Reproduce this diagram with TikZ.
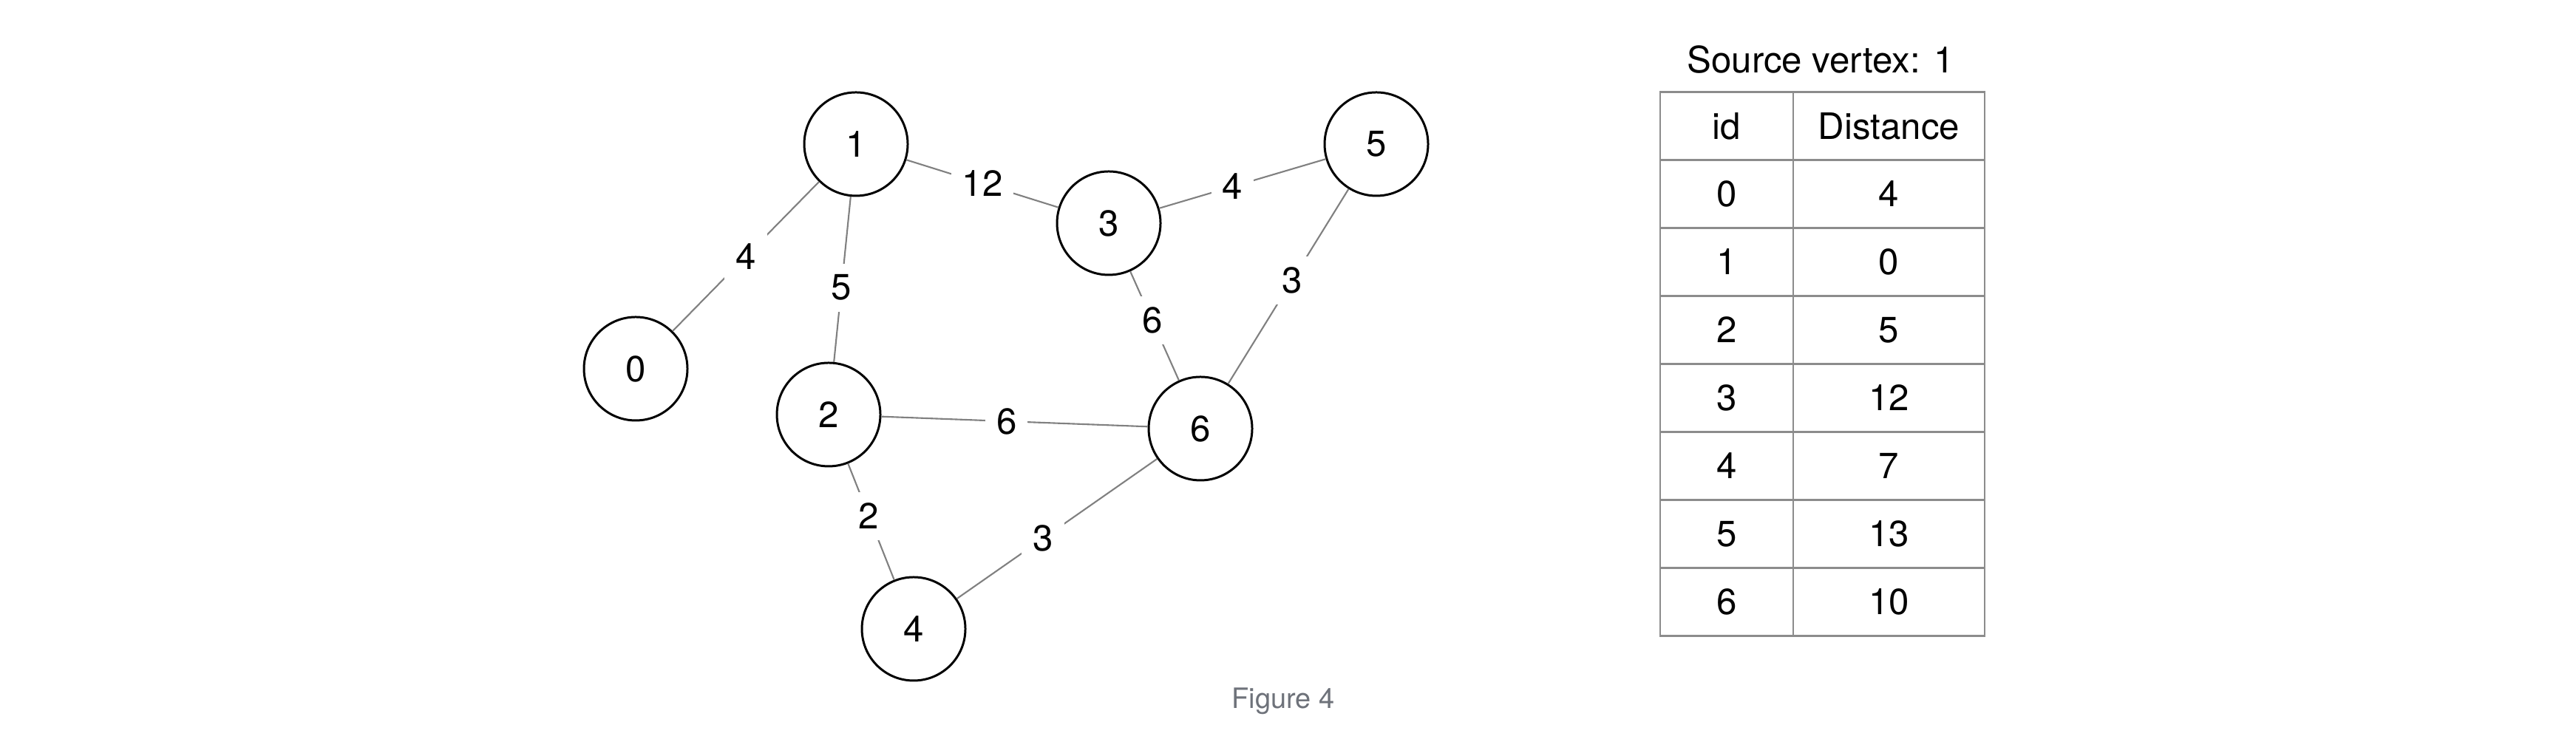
\documentclass[tikz,border=0pt]{standalone}
\usepackage{fontspec}
\setmainfont{TeX Gyre Heros}
\definecolor{edgegray}{RGB}{128,128,128}
\definecolor{tablegray}{RGB}{140,140,140}
\definecolor{captiongray}{RGB}{110,114,122}
\begin{document}
\begin{tikzpicture}[
    vertex/.style={draw, circle, line width=0.85pt, minimum size=1.4cm, inner sep=0pt, font=\fontsize{14}{16}\selectfont},
    edge/.style={draw=edgegray, line width=0.6pt},
    weight/.style={fill=white, inner sep=0.15cm, font=\fontsize{14}{16}\selectfont},
    cell/.style={font=\fontsize{14}{16}\selectfont},
    tableline/.style={draw=tablegray, line width=0.7pt}
]
    \useasboundingbox (0,0) rectangle (34.85,10);

    \node[vertex] (v0) at (8.60, 5.01) {0};
    \node[vertex] (v1) at (11.58, 8.05) {1};
    \node[vertex] (v2) at (11.21, 4.39) {2};
    \node[vertex] (v3) at (15.00, 6.98) {3};
    \node[vertex] (v4) at (12.36, 1.49) {4};
    \node[vertex] (v5) at (18.62, 8.05) {5};
    \node[vertex] (v6) at (16.24, 4.20) {6};

    \draw[edge] (v0) -- node[weight, midway] (w01) {4} (v1);
    \draw[edge] (v1) -- node[weight, pos=0.55] (w12) {5} (v2);
    \draw[edge] (v1) -- node[weight, midway] (w13) {12} (v3);
    \draw[edge] (v3) -- node[weight, pos=0.44] (w35) {4} (v5);
    \draw[edge] (v3) -- node[weight, pos=0.45] (w36) {6} (v6);
    \draw[edge] (v5) -- node[weight, pos=0.47] (w56) {3} (v6);
    \draw[edge] (v2) -- node[weight, pos=0.47] (w26) {6} (v6);
    \draw[edge] (v2) -- node[weight, pos=0.45] (w24) {2} (v4);
    \draw[edge] (v4) -- node[weight, pos=0.43] (w46) {3} (v6);

    \node[cell, anchor=base] (title) at (24.63, 9.01) {Source vertex: 1};
    \draw[tableline] (22.46,8.755) rectangle (26.85,1.395);
    \draw[tableline] (24.26,8.755) -- (24.26,1.395);
    \foreach \r in {1,...,7}
        \draw[tableline] (22.46,{8.755-0.92*\r}) -- (26.85,{8.755-0.92*\r});
    \node[cell] (idhead) at (23.36, 8.295) {id};
    \node[cell] (disthead) at (25.555, 8.295) {Distance};
    \foreach \id/\dist [count=\r] in {0/4,1/0,2/5,3/12,4/7,5/13,6/10} {
        \node[cell] (id\id) at (23.36, {8.295-0.92*\r}) {\id};
        \node[cell] (dist\id) at (25.555, {8.295-0.92*\r}) {\dist};
    }

    \node[font=\fontsize{10.8}{12}\selectfont, text=captiongray, anchor=base] (caption) at (17.36, 0.41) {Figure 4};
\end{tikzpicture}
\end{document}
